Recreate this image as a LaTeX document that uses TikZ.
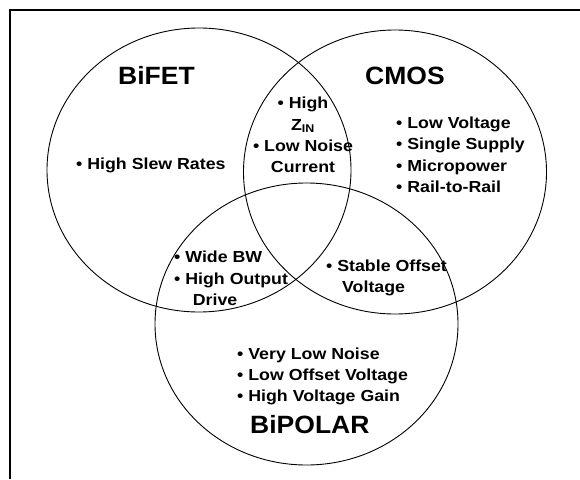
\documentclass[tikz,border=0pt]{standalone}
\usepackage{fontspec}
\setmainfont{Liberation Sans}
\usepackage{tikz}
\usetikzlibrary{shapes.geometric}
\tikzset{
  ring/.style     = {draw, ellipse, line width=0.9pt, inner sep=0pt},
  frameline/.style = {line width=2pt},
  title/.style    = {font=\fontsize{25}{25}\selectfont\bfseries, xscale=1.06,
                     anchor=base west, inner sep=0pt},
  item/.style     = {font=\fontsize{16}{21.3}\selectfont\bfseries, xscale=1.11,
                     anchor=base west, inner sep=0pt, align=left},
}
\newcommand{\bul}{\textbullet\ }

\begin{document}
\begin{tikzpicture}[x=1pt,y=-1pt]
  \useasboundingbox (0,0) rectangle (580,479);

  % --- frame (left and top edges only) ---
  \coordinate (fbot) at (10,479);
  \coordinate (fright) at (580,10);
  \draw[frameline] (fbot) |- (fright);

  % --- the three sets ---
  \node[ring, minimum width=304pt, minimum height=284pt] (bifet) at (199,170) {};
  \node[ring, minimum width=303pt, minimum height=284pt] (cmos)  at (395,172) {};
  \node[ring, minimum width=303pt, minimum height=282pt] (bipol) at (306.5,324) {};

  \node[title] (tbifet) at (118,84)  {BiFET};
  \node[title] (tcmos)  at (365,84)  {CMOS};
  \node[title] (tbipol) at (250,433) {BiPOLAR};

  % --- lists (base = last line) ---
  \node[item] (slew) at (76,169) {\bul High Slew Rates};
  \node[item, align=center, anchor=base] (zin) at (303,172.7)
        {\bul High\\Z\textsubscript{IN}\\\bul Low Noise\\Current};
  \node[item] (cmoslist) at (396,192.5)
        {\bul Low Voltage\\\bul Single Supply\\\bul Micropower\\\bul Rail-to-Rail};
  \node[item] (wide) at (174,305.5)
        {\bul Wide BW\\\bul High Output\\\hspace{1.05em}Drive};
  \node[item] (stable) at (326,292.5) {\bul Stable Offset\\\hspace{0.9em}Voltage};
  \node[item] (biplist) at (237,401.7)
        {\bul Very Low Noise\\\bul Low Offset Voltage\\\bul High Voltage Gain};
\end{tikzpicture}
\end{document}
